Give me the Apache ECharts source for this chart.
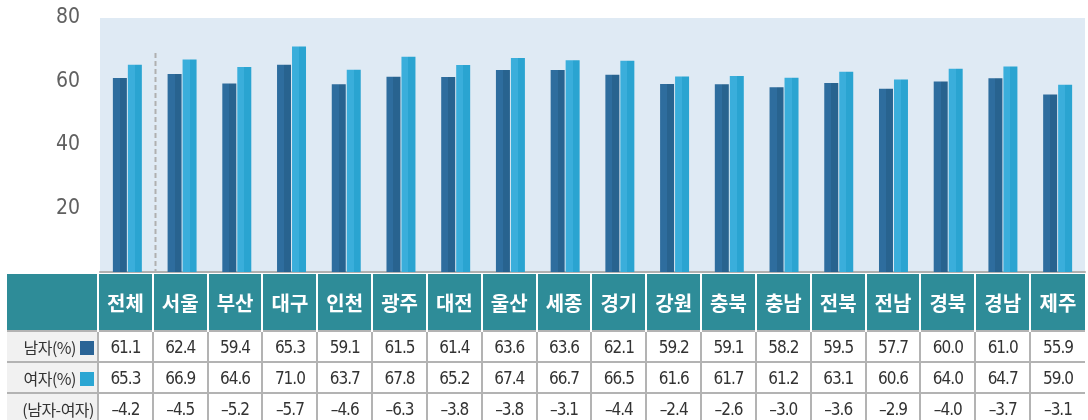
<!DOCTYPE html>
<html>
<head>
<meta charset="utf-8">
<script src="https://cdn.jsdelivr.net/npm/echarts@6/dist/echarts.min.js"></script>
<style>
    body { margin: 0; background: #fff; }
    #wrap { position: relative; width: 1088px; height: 420px; overflow: hidden; }
    #main { position: absolute; left: 0; top: 0; width: 1088px; height: 420px; }
    #tbl { position: absolute; left: 7px; top: 274px; border-collapse: collapse; table-layout: fixed; }
    #tbl td { padding: 0; text-align: center; overflow: hidden; white-space: nowrap; }
    #tbl tr.head td { background: #2e8c98; color: #fff; height: 56px; font: bold 20px "Noto Sans CJK KR", sans-serif;
        border-left: 2px solid #fff; }
    #tbl tr.head td:first-child { border-left: none; }
    #tbl tr.row td { height: 29px; border: 2px solid #b3b3b3; border-right: none; font: 17px "DejaVu Sans Condensed", "Liberation Sans Narrow", sans-serif;
        color: #333; letter-spacing: -1px; background: #fff; }
    #tbl tr.row td.lab { background: #f1f1f1; text-align: right; padding-right: 3px; border-left: none;
        font: 16px "Noto Sans CJK KR", sans-serif; color: #333; letter-spacing: -0.5px; }
    .sq { display: inline-block; width: 14px; height: 14px; vertical-align: -1px; margin-left: 4px; }
</style>
</head>
<body>
<div id="wrap">
    <div id="main"></div>
    <table id="tbl"></table>
</div>
<script type="text/javascript">
    // 지역별 데이터
    var regions = ['전체', '서울', '부산', '대구', '인천', '광주', '대전', '울산', '세종', '경기', '강원', '충북', '충남', '전북', '전남', '경북', '경남', '제주'];
    var male = [61.1, 62.4, 59.4, 65.3, 59.1, 61.5, 61.4, 63.6, 63.6, 62.1, 59.2, 59.1, 58.2, 59.5, 57.7, 60.0, 61.0, 55.9];
    var female = [65.3, 66.9, 64.6, 71.0, 63.7, 67.8, 65.2, 67.4, 66.7, 66.5, 61.6, 61.7, 61.2, 63.1, 60.6, 64.0, 64.7, 59.0];
    var diff = ['-4.2', '-4.5', '-5.2', '-5.7', '-4.6', '-6.3', '-3.8', '-3.8', '-3.1', '-4.4', '-2.4', '-2.6', '-3.0', '-3.6', '-2.9', '-4.0', '-3.7', '-3.1'];
    var rowNames = ['남자(%)', '여자(%)', '(남자-여자)'];
    var maleColor = '#2a6496', femaleColor = '#2ba6d3';

    // 표 만들기
    var firstW = 91, colW = (1085 - 98) / regions.length;
    var html = '<colgroup><col style="width:' + firstW + 'px">';
    regions.forEach(function () { html += '<col style="width:' + colW + 'px">'; });
    html += '</colgroup><tr class="head"><td></td>';
    regions.forEach(function (r) { html += '<td>' + r + '</td>'; });
    html += '</tr>';
    var rows = [male.map(function (v) { return v.toFixed(1); }), female.map(function (v) { return v.toFixed(1); }), diff];
    rows.forEach(function (vals, i) {
        var sq = i < 2 ? '<span class="sq" style="background:' + (i === 0 ? maleColor : femaleColor) + '"></span>' : '';
        html += '<tr class="row"><td class="lab">' + rowNames[i] + sq + '</td>';
        vals.forEach(function (v) { html += '<td>' + v.replace('-', '–') + '</td>'; });
        html += '</tr>';
    });
    document.getElementById('tbl').innerHTML = html;

    function split(c1, c2) {
        return new echarts.graphic.LinearGradient(0, 0, 1, 0, [
            {offset: 0, color: c1}, {offset: 0.5, color: c1},
            {offset: 0.5, color: c2}, {offset: 1, color: c2}
        ]);
    }

    var myChart = echarts.init(document.getElementById('main'));
    var option = {
        animation: false,
        grid: {
            left: 100, right: 3, top: 18, bottom: 148,
            show: true, backgroundColor: '#dfeaf4', borderWidth: 0
        },
        xAxis: {
            type: 'category',
            data: regions,
            axisLine: {lineStyle: {color: '#b0b0b0', width: 2}},
            axisTick: {show: false},
            axisLabel: {show: false}
        },
        yAxis: {
            type: 'value',
            min: 0, max: 80, interval: 20,
            axisLine: {show: false},
            axisTick: {show: false},
            splitLine: {show: false},
            axisLabel: {
                margin: 20,
                color: '#606060',
                fontSize: 21,
                fontFamily: 'DejaVu Sans Condensed, Liberation Sans Narrow, sans-serif',
                formatter: function (v) { return v === 0 ? '' : v; }
            }
        },
        series: [{
            name: '남자',
            type: 'bar',
            data: male,
            barWidth: 14,
            barGap: '7%',
            itemStyle: {color: split('#2e6d9e', '#28638f')}
        }, {
            name: '여자',
            type: 'bar',
            data: female,
            barWidth: 14,
            itemStyle: {color: split('#3aaedb', '#2aa4d1')}
        }]
    };
    myChart.setOption(option);

    // 전체와 시도 구분 점선
    var x0 = myChart.convertToPixel({xAxisIndex: 0}, 0);
    var x1 = myChart.convertToPixel({xAxisIndex: 0}, 1);
    var yTop = myChart.convertToPixel({yAxisIndex: 0}, 69);
    var yBot = myChart.convertToPixel({yAxisIndex: 0}, 0);
    var xm = Math.round((x0 + x1) / 2) + 0.5;
    myChart.setOption({
        graphic: [{
            type: 'line',
            shape: {x1: xm, y1: yTop, x2: xm, y2: yBot},
            style: {stroke: '#b0b0b0', lineWidth: 2, lineDash: [5, 3]}
        }]
    });
</script>
</body>
</html>
